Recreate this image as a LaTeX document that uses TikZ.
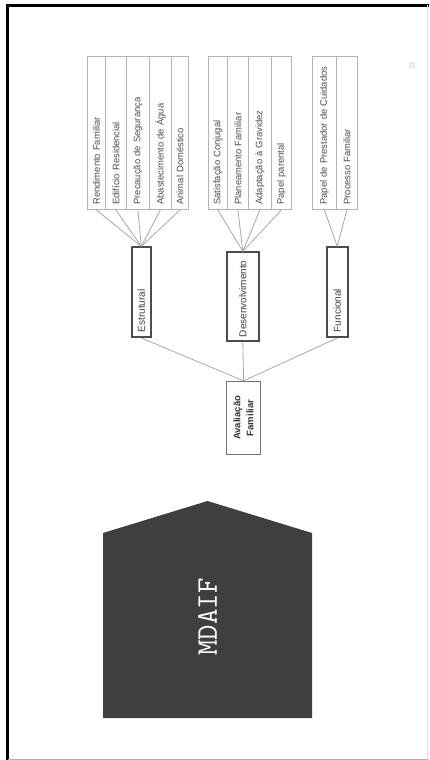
\documentclass[tikz,border=0pt]{standalone}
\usepackage{fontspec}
\setmainfont{Liberation Sans}
\usepackage{tikz}
\usetikzlibrary{calc}

\definecolor{housegray}{HTML}{3F3F3F}
\definecolor{leafgray}{HTML}{B4B4B4}
\definecolor{linkgray}{HTML}{A8A8A8}

\begin{document}
\begin{tikzpicture}[x=1pt,y=-1pt,
  leaf/.style={draw=leafgray, line width=0.8pt, rotate=90, anchor=north west,
    inner xsep=5pt, inner ysep=0pt, text width=143pt, align=left,
    text=black!70, font=\fontsize{9.4}{11}\selectfont},
  branch/.style={draw=black!70, line width=1.6pt, rotate=90, anchor=north west,
    inner xsep=5pt, inner ysep=0pt, align=left, text=black!75,
    font=\fontsize{10}{12}\selectfont},
  link/.style={linkgray, line width=0.8pt}]
  \useasboundingbox (0,0) rectangle (429,760);

  % page frame
  \draw[line width=3pt] (7.5,760) -- (7.5,5.5) -- (429,5.5);
  \draw[gray!60] (7.5,759.5) -- (429,759.5);
  \draw[gray!25] (427,5.5) -- (427,759.5);
  \node[rotate=90, text=gray!50, font=\fontsize{7}{8}\selectfont] (pagenum) at (412,66) {13};

  % root
  \node[draw=black!55, line width=1.2pt, rotate=90, anchor=north west,
    minimum width=73pt, minimum height=34pt, inner sep=0pt, align=center,
    text=black!80, font=\bfseries\fontsize{9.5}{13}\selectfont] (aval) at (226,455) {Avaliação\\Familiar};

  % branches
  \node[branch, text width=80pt, minimum height=19pt] (estr) at (131,338) {Estrutural};
  \node[branch, text width=81pt, inner xsep=4pt, minimum height=32pt] (desenv) at (226,342) {Desenvolvimento};
  \node[branch, text width=80pt, minimum height=21pt] (func) at (326,338) {Funcional};

  \draw[link] (aval.east) -- (estr.west);
  \draw[link] (aval.east) -- (desenv.west);
  \draw[link] (aval.east) -- (func.west);

  % leaves
  \foreach \xa/\xb/\txt/\grp in {
      87/105/Rendimento Familiar/estr,
      105/126/Edifício Residencial/estr,
      126/149/Precaução de Segurança/estr,
      149/171/Abastecimento de Água/estr,
      171/188/Animal Doméstico/estr,
      208/227/Satisfação Conjugal/desenv,
      227/248/Planeamento Familiar/desenv,
      248/271/Adaptação à Gravidez/desenv,
      271/291/Papel parental/desenv,
      312/336/Papel de Prestador de Cuidados/func,
      336/357/Processo Familiar/func} {
    \node[leaf, minimum height={(\xb-\xa)*1pt}] (leaf\xa) at (\xa,210) {\txt};
    \draw[link] (leaf\xa.west) -- (\grp.east);
  }

  % MDAIF house
  \fill[housegray] (103,718) -- (103,533) -- (207.5,501) -- (312,533) -- (312,718) -- cycle;
  \node[rotate=90, text=white, font=\ttfamily\fontsize{30}{32}\selectfont] (mdaif) at (207.5,617) {MDAIF};
\end{tikzpicture}
\end{document}
